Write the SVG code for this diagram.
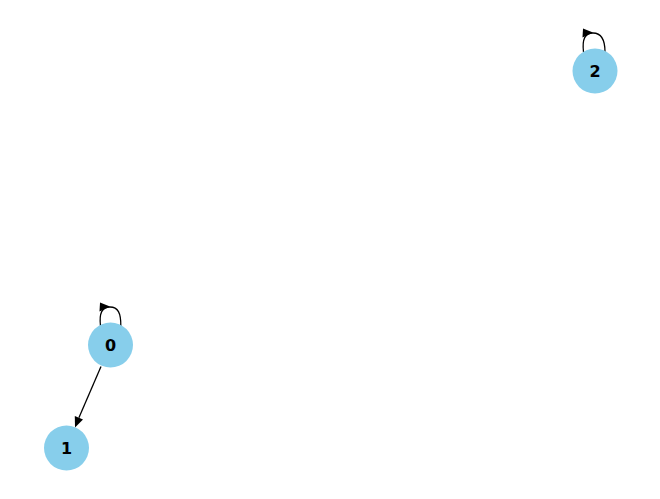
<svg xmlns="http://www.w3.org/2000/svg" width="660" height="499" viewBox="0 0 660 499">
<style>
.node circle{fill:#87CEEB;}
.node text{font-family:"DejaVu Sans",sans-serif;font-weight:bold;font-size:16px;fill:#000;text-anchor:middle;dominant-baseline:central;}
.edge{fill:none;stroke:#000;stroke-width:1.3;}
.head{fill:#000;}
</style>
<rect width="660" height="499" fill="#fff"/>
<g id="connectors">
<path class="edge" d="M100.5,326 C99,313 102,307 110,307 C118,307 121,313 120.8,326"/>
<polygon class="head" points="100,302.5 99.5,311.5 110,306.5"/>
<path class="edge" d="M583.5,52 C582,39 585,33 593,33 C601,33 605,39 605,52"/>
<polygon class="head" points="583,28.5 582.5,37.5 593,32.5"/>
<path class="edge" d="M101,366.5 L78.9,417.8"/>
<polygon class="head" points="75,427.5 83,419.4 74.8,416"/>
</g>
<g id="node0" class="node"><circle cx="110.5" cy="345" r="22.5"/><text x="110.5" y="345">0</text></g>
<g id="node1" class="node"><circle cx="66.5" cy="448" r="22.5"/><text x="66.5" y="448">1</text></g>
<g id="node2" class="node"><circle cx="595" cy="71" r="22.5"/><text x="595" y="71">2</text></g>
</svg>
